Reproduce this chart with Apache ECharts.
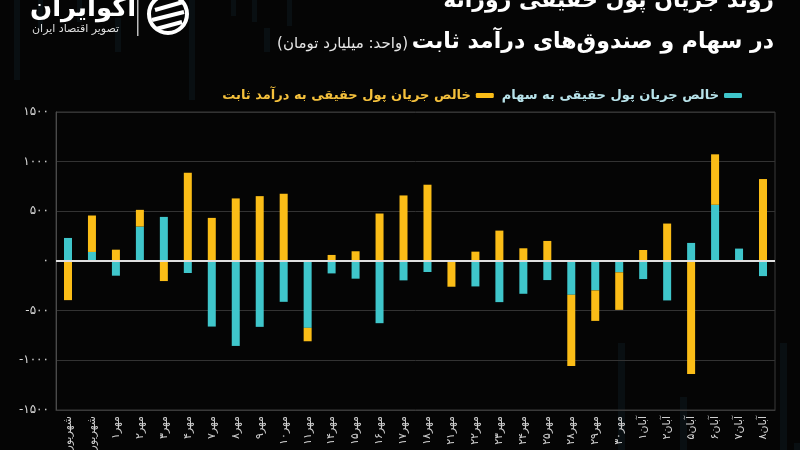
<!DOCTYPE html>
<html><head><meta charset="utf-8">
<script src="https://cdn.jsdelivr.net/npm/echarts@6/dist/echarts.min.js"></script>
<style>html,body{margin:0;padding:0;background:#050505;}#c{width:800px;height:450px;}</style>
</head><body><div id="c"></div>
<script>
const categories = ['شهریور۲۸','شهریور۳۱','مهر۱','مهر۲','مهر۳','مهر۴','مهر۷','مهر۸','مهر۹','مهر۱۰','مهر۱۱','مهر۱۴','مهر۱۵','مهر۱۶','مهر۱۷','مهر۱۸','مهر۲۱','مهر۲۲','مهر۲۳','مهر۲۴','مهر۲۵','مهر۲۸','مهر۲۹','مهر۳۰','آبان۱','آبان۲','آبان۵','آبان۶','آبان۷','آبان۸'];
const stockFlow = [232,91,-148,347,444,-121,-660,-855,-663,-411,-673,-125,-178,-626,-195,-111,0,-256,-414,-330,-192,-340,-296,-114,-182,-397,182,566,125,-152];
const fixedIncomeFlow = [-394,367,114,168,-202,889,434,630,653,677,-135,61,98,478,660,768,-259,94,306,128,202,-717,-307,-378,111,377,-1138,508,0,825];
const yTicks = {min:-1500, max:1500, interval:500};
const seriesNames = ['خالص جریان پول حقیقی به سهام','خالص جریان پول حقیقی به درآمد ثابت'];

const fa = s => String(s).replace(/\d/g, d => '۰۱۲۳۴۵۶۷۸۹'[d]);
const FONT = 'DejaVu Sans, sans-serif';
const CYAN = '#3fc6cb', YEL = '#fbbd17';

// faint decorative background stripes [x, y, w, h]
const stripes = [[14,0,6,80],[38,0,5,30],[77,0,5,22],[115,18,6,34],[189,0,6,100],[231,0,5,16],[252,0,5,22],[264,28,6,24],[287,0,5,26],
                 [618,343,7,107],[680,397,7,53],[780,343,7,107],[794,443,6,7]];

const chart = echarts.init(document.getElementById('c'));
chart.setOption({
  backgroundColor: '#050505',
  animation: false,
  textStyle: {fontFamily: FONT},
  grid: {left:56, right:25, top:112, bottom:40, containLabel:false, outerBoundsMode:'none',
         show:true, borderColor:'#3a3a3a', borderWidth:1},
  legend: {
    right: 53, top: 84, align: 'right', itemWidth: 18, itemHeight: 5, itemGap: 8, icon: 'roundRect',
    data: [
      {name: seriesNames[1], textStyle:{color: '#f4c03c'}},
      {name: seriesNames[0], textStyle:{color: '#b8e3ea'}}
    ],
    textStyle: {fontSize: 13, fontWeight: 'bold', fontFamily: FONT}
  },
  xAxis: {
    type: 'category', data: categories,
    axisLine: {onZero:false, lineStyle:{color:'#3a3a3a'}},
    axisTick: {show:false},
    axisLabel: {rotate: 90, color:'#d0d0d0', fontSize: 11, margin: 6, interval: 0}
  },
  yAxis: {
    type: 'value', min: yTicks.min, max: yTicks.max, interval: yTicks.interval,
    axisLine: {show:true, lineStyle:{color:'#4a4a4a'}},
    axisTick: {show:false},
    splitLine: {lineStyle:{color:'#333'}},
    axisLabel: {color:'#d8d8d8', fontSize: 12, margin: 7, formatter: v => fa(v)}
  },
  series: [
    {name: seriesNames[0], type:'bar', stack:'flow', data: stockFlow, barWidth: 8,
     itemStyle:{color: CYAN},
     markLine: {silent:true, symbol:'none', label:{show:false}, lineStyle:{color:'#e0e0e0', width:2, type:'solid'}, data:[{yAxis:0}]}},
    {name: seriesNames[1], type:'bar', stack:'flow', data: fixedIncomeFlow, barWidth: 8,
     itemStyle:{color: YEL}}
  ],
  graphic: stripes.map(s => ({type:'rect', z:-10, silent:true, shape:{x:s[0], y:s[1], width:s[2], height:s[3]}, style:{fill:'rgba(30,70,85,0.16)'}})).concat([
    {type:'text', right: 26, top: -10, style:{text:'روند جریان پول حقیقی روزانه', fill:'#fff', font:'bold 22px '+FONT, textAlign:'right'}},
    {type:'text', right: 26, top: 31, style:{text:'در سهام و صندوق‌های درآمد ثابت', fill:'#fff', font:'bold 22px '+FONT, textAlign:'right'}},
    {type:'text', right: 392, top: 37, style:{text:'(واحد: میلیارد تومان)', fill:'#e6e6e6', font:'15px '+FONT, textAlign:'right'}},
    {type:'text', left: 30, top: -4, style:{text:'آکوایران', fill:'#fff', font:'bold 26px '+FONT}},
    {type:'text', left: 32, top: 24, style:{text:'تصویر اقتصاد ایران', fill:'#ddd', font:'11px '+FONT}},
    {type:'rect', shape:{x:137, y:0, width:1.5, height:36}, style:{fill:'#bbb'}},
    {type:'circle', shape:{cx:168, cy:14, r:19}, style:{fill:'none', stroke:'#fff', lineWidth:4}},
    {type:'line', shape:{x1:155, y1:10, x2:183, y2:2}, style:{stroke:'#fff', lineWidth:4}},
    {type:'line', shape:{x1:152, y1:20, x2:184, y2:12}, style:{stroke:'#fff', lineWidth:4}},
    {type:'line', shape:{x1:156, y1:29, x2:182, y2:22}, style:{stroke:'#fff', lineWidth:4}}
  ])
});
</script></body></html>
